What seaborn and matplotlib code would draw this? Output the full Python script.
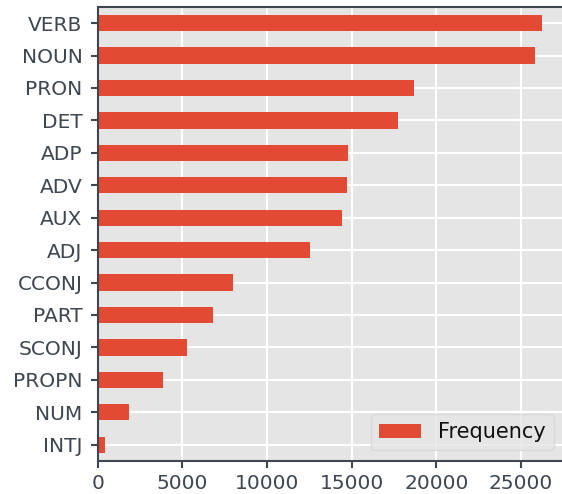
import matplotlib
matplotlib.use("Agg")
import matplotlib.pyplot as plt
import seaborn as sns
import pandas as pd

categories = ["VERB", "NOUN", "PRON", "DET", "ADP", "ADV", "AUX", "ADJ",
              "CCONJ", "PART", "SCONJ", "PROPN", "NUM", "INTJ"]
frequency = [26250, 25840, 18690, 17740, 14780, 14720, 14430, 12540,
             7990, 6810, 5280, 3850, 1830, 405]

df = pd.DataFrame({"pos": categories, "Frequency": frequency})

sns.set_style("darkgrid", {
    "axes.facecolor": "#E5E5E5",
    "grid.color": "white",
    "axes.edgecolor": "#3d4651",
    "xtick.bottom": True,
    "ytick.left": True,
})
plt.rcParams["font.family"] = ["DejaVu Sans"]

fig = plt.figure(figsize=(5.62, 4.94), dpi=100)
ax = fig.add_axes([0.174, 0.067, 0.83, 0.919])

sns.barplot(data=df, y="pos", x="Frequency", order=categories,
            color="#E24A33", saturation=1, width=0.5, orient="h",
            label="Frequency", linewidth=0, edgecolor="none", ax=ax)

ax.set_xlim(0, 27560)
ax.set_xticks([0, 5000, 10000, 15000, 20000, 25000])
ax.set_xlabel("")
ax.set_ylabel("")
ax.grid(True, color="white", linewidth=1.5)
ax.set_axisbelow(True)
for s in ["left", "bottom", "top", "right"]:
    ax.spines[s].set_visible(True)
    ax.spines[s].set_color("#3d4651")
    ax.spines[s].set_linewidth(1.5)
ax.tick_params(axis="both", colors="#3d4651", labelsize=14.5, length=5,
               width=1.5, direction="out")
ax.tick_params(axis="y", pad=6)
ax.tick_params(axis="x", pad=4.5)
leg = ax.legend(loc="lower right", fontsize=15, frameon=True,
                facecolor="#E5E5E5", edgecolor="#d5d5d5", framealpha=0.8)
for t in leg.get_texts():
    t.set_color("#111111")

fig.savefig("out.png", dpi=100)
